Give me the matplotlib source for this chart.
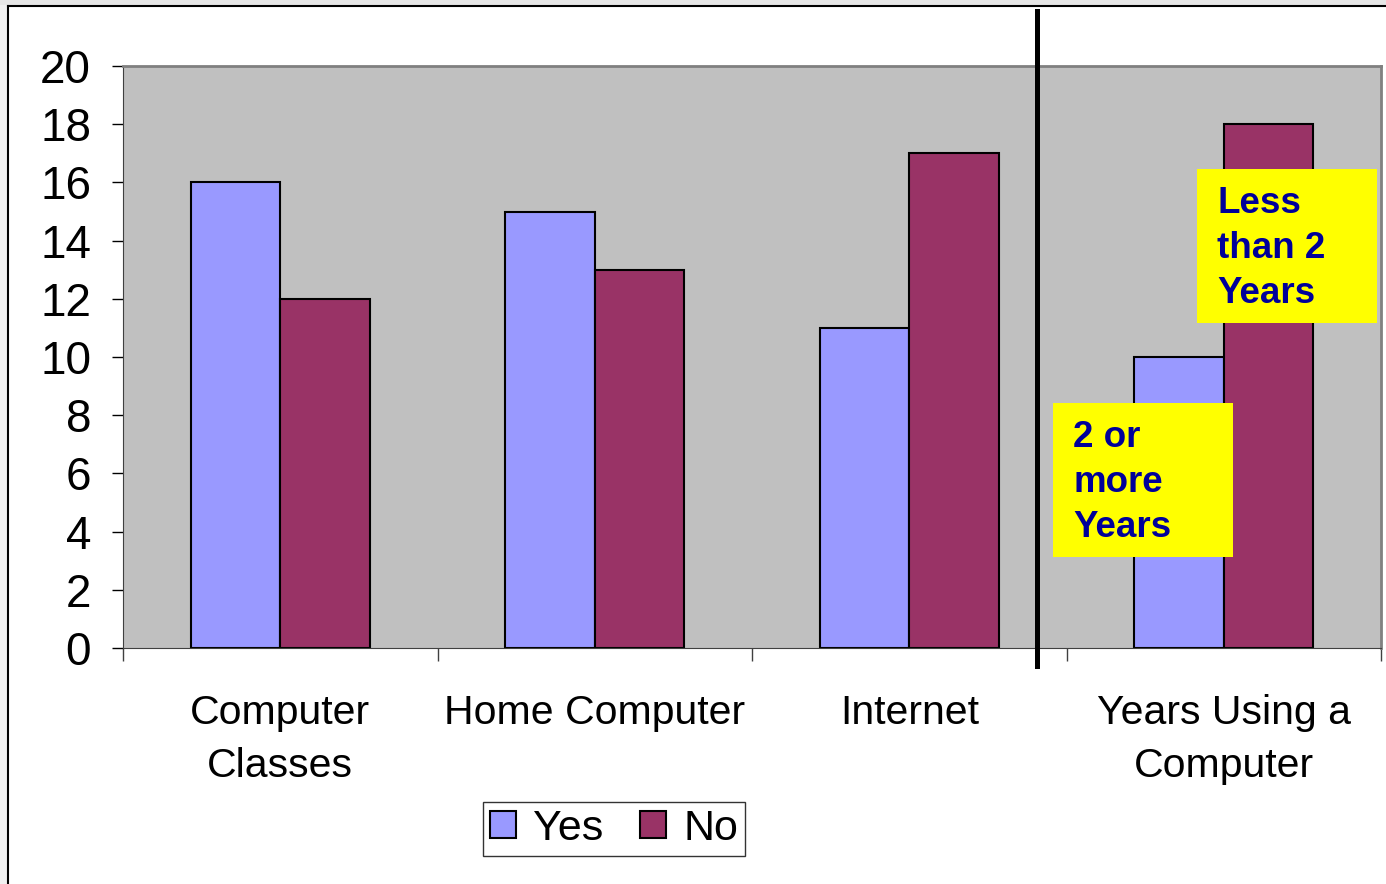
import matplotlib.pyplot as plt
from matplotlib.patches import Rectangle
from matplotlib.lines import Line2D

categories = ["Computer\nClasses", "Home Computer", "Internet", "Years Using a\nComputer"]
yes_values = [16, 15, 11, 10]
no_values = [12, 13, 17, 18]
series_names = ["Yes", "No"]
note_upper = "Less\nthan 2\nYears"
note_lower = "2 or\nmore\nYears"

W, H = 1386, 884
plt.rcParams["font.family"] = ["Liberation Sans", "DejaVu Sans"]


def fx(x):
    return x / W


def fy(y):
    return 1 - y / H


fig = plt.figure(figsize=(W / 100, H / 100), dpi=100)
fig.patch.set_facecolor("white")

# light grey surround + slide frame
fig.patches.append(Rectangle((0, 0), fx(7), 1, transform=fig.transFigure,
                             facecolor="#f0f0f0", edgecolor="none", zorder=0))
fig.patches.append(Rectangle((0, fy(5)), 1, 1 - fy(5), transform=fig.transFigure,
                             facecolor="#e6e6e6", edgecolor="none", zorder=0))
fig.lines.append(Line2D([fx(8), fx(8)], [0, fy(6)], transform=fig.transFigure,
                        color="black", lw=1.5))
fig.lines.append(Line2D([fx(8), 1], [fy(6), fy(6)], transform=fig.transFigure,
                        color="black", lw=1.5))

ax = fig.add_axes([fx(123), fy(648), fx(1381) - fx(123), fy(66) - fy(648)])
ax.set_facecolor("#c0c0c0")

x = list(range(len(categories)))
width = 0.285
ax.bar([i - width / 2 for i in x], yes_values, width, color="#9999ff",
       edgecolor="black", linewidth=1.5, label=series_names[0], zorder=2)
ax.bar([i + width / 2 for i in x], no_values, width, color="#993366",
       edgecolor="black", linewidth=1.5, label=series_names[1], zorder=2)

ax.set_xlim(-0.5, len(categories) - 0.5)
ax.set_ylim(0, 20)
ax.set_yticks(range(0, 21, 2))
ax.tick_params(axis="y", labelsize=33, length=8, width=1, pad=15, direction="out")

ax.set_xticks(x)
ax.set_xticklabels(categories, fontsize=29.5, linespacing=1.52)
ax.tick_params(axis="x", length=0, pad=33)
ax.set_xticks([i - 0.5 for i in range(len(categories) + 1)], minor=True)
ax.tick_params(axis="x", which="minor", length=9, width=1, color="#404040")

for side in ["top", "right"]:
    ax.spines[side].set_color("#808080")
    ax.spines[side].set_linewidth(2)
ax.spines["left"].set_color("#404040")
ax.spines["bottom"].set_color("#404040")

# divider line
fig.lines.append(Line2D([fx(1037), fx(1037)], [fy(666), fy(11)],
                        transform=fig.transFigure, color="black", lw=3.6, zorder=5))

# yellow notes
for x0, y0, x1, y1, tx, ty, txt in [
    (1197, 169, 1377, 323, 1217, 186, note_upper),
    (1053, 403, 1233, 557, 1073, 420, note_lower),
]:
    fig.patches.append(Rectangle((fx(x0), fy(y1)), fx(x1) - fx(x0), fy(y0) - fy(y1),
                                 transform=fig.transFigure, facecolor="#ffff00",
                                 edgecolor="none", zorder=6))
    fig.text(fx(tx), fy(ty), txt, ha="left", va="top", fontsize=26.5,
             fontweight="bold", color="#000099", linespacing=1.37, zorder=7)

leg = fig.legend(loc="center", bbox_to_anchor=(fx(614), fy(829)), ncol=2,
                 fontsize=31, frameon=True, fancybox=False, handlelength=0.6,
                 handleheight=0.6, handletextpad=0.4, columnspacing=0.85,
                 borderpad=0.17, borderaxespad=0)
leg.get_frame().set_edgecolor("black")
leg.get_frame().set_linewidth(1)

fig.savefig("out.png", dpi=100)
